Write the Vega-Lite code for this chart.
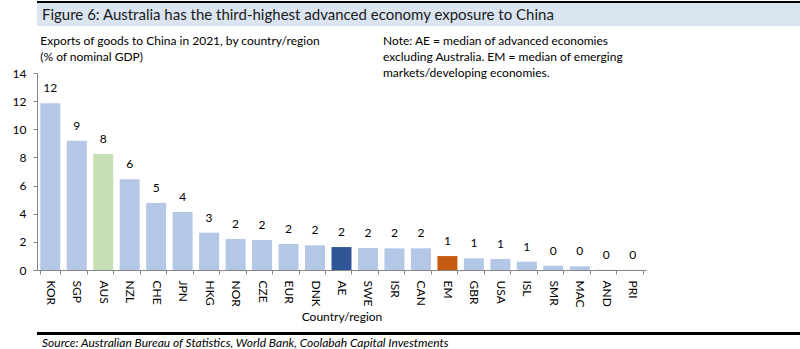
{
  "$schema": "https://vega.github.io/schema/vega-lite/v6.json",
  "background": "white",
  "padding": {"top": 1, "left": 0, "right": 0, "bottom": 0},
  "autosize": {"type": "pad"},
  "columns": 1,
  "align": "none",
  "spacing": {"row": 9, "column": 0},
  "config": {
    "font": "Lato",
    "view": {"stroke": null},
    "title": {"color": "#000000", "fontWeight": "normal"},
    "axis": {"labelColor": "#000000", "titleColor": "#000000", "labelFont": "Lato", "titleFont": "Lato"},
    "axisY": {"labelOverlap": false, "labelFontSize": 12}
  },
  "concat": [
    {
      "columns": 1,
      "spacing": 0,
      "align": "none",
      "concat": [
        {
          "width": 800,
          "height": 2,
          "data": {"values": [{}]},
          "mark": {"type": "rect", "color": "#000000"},
          "encoding": {}
        },
        {
          "width": 800,
          "height": 23,
          "data": {"values": [{}]},
          "mark": {"type": "rect", "color": "#DBE5F1"},
          "encoding": {},
          "title": {
            "text": "Figure 6: Australia has the third-highest advanced economy exposure to China",
            "orient": "top",
            "anchor": "start",
            "frame": "group",
            "baseline": "middle",
            "offset": -27,
            "dx": 5,
            "fontSize": 15,
            "fontWeight": "normal",
            "color": "#1a1a1a"
          }
        }
      ]
    },
    {
      "width": 609,
      "height": 197,
      "resolve": {"axis": {"x": "independent", "y": "independent"}},
      "layer": [
        {
          "data": {
            "values": [
              {"country": "KOR", "value": 11.85, "kind": "Country"},
              {"country": "SGP", "value": 9.19, "kind": "Country"},
              {"country": "AUS", "value": 8.24, "kind": "Australia"},
              {"country": "NZL", "value": 6.45, "kind": "Country"},
              {"country": "CHE", "value": 4.76, "kind": "Country"},
              {"country": "JPN", "value": 4.12, "kind": "Country"},
              {"country": "HKG", "value": 2.65, "kind": "Country"},
              {"country": "NOR", "value": 2.2, "kind": "Country"},
              {"country": "CZE", "value": 2.13, "kind": "Country"},
              {"country": "EUR", "value": 1.85, "kind": "Country"},
              {"country": "DNK", "value": 1.75, "kind": "Country"},
              {"country": "AE", "value": 1.63, "kind": "AE"},
              {"country": "SWE", "value": 1.56, "kind": "Country"},
              {"country": "ISR", "value": 1.54, "kind": "Country"},
              {"country": "CAN", "value": 1.54, "kind": "Country"},
              {"country": "EM", "value": 0.99, "kind": "EM"},
              {"country": "GBR", "value": 0.83, "kind": "Country"},
              {"country": "USA", "value": 0.78, "kind": "Country"},
              {"country": "ISL", "value": 0.59, "kind": "Country"},
              {"country": "SMR", "value": 0.31, "kind": "Country"},
              {"country": "MAC", "value": 0.26, "kind": "Country"},
              {"country": "AND", "value": 0.02, "kind": "Country"},
              {"country": "PRI", "value": 0.01, "kind": "Country"}
            ]
          },
          "encoding": {
            "x": {
              "field": "country",
              "type": "nominal",
              "sort": null,
              "scale": {
                "domain": ["KOR", "SGP", "AUS", "NZL", "CHE", "JPN", "HKG", "NOR", "CZE", "EUR", "DNK", "AE", "SWE", "ISR", "CAN", "EM", "GBR", "USA", "ISL", "SMR", "MAC", "AND", "PRI"],
                "paddingInner": 0.245,
                "paddingOuter": 0.1225
              },
              "axis": {
                "title": "Country/region",
                "titleFontSize": 12,
                "titleFontWeight": "normal",
                "titlePadding": 4,
                "labelAngle": 90,
                "labelAlign": "left",
                "labelBaseline": "middle",
                "labelFontSize": 12,
                "labelPadding": 6,
                "tickBand": "extent",
                "tickSize": 4,
                "tickColor": "#868686",
                "domainColor": "#868686"
              }
            },
            "y": {
              "field": "value",
              "type": "quantitative",
              "scale": {"domain": [0, 14], "nice": false},
              "axis": {
                "title": null,
                "values": [0, 2, 4, 6, 8, 10, 12, 14],
                "labelOverlap": false,
                "grid": false,
                "tickSize": 4,
                "tickColor": "#868686",
                "domainColor": "#868686",
                "labelFontSize": 12,
                "labelPadding": 7,
                "minExtent": 37
              }
            }
          },
          "layer": [
            {
              "mark": {"type": "bar"},
              "encoding": {
                "color": {
                  "field": "kind",
                  "type": "nominal",
                  "scale": {"domain": ["Country", "Australia", "AE", "EM"], "range": ["#B4C7E7", "#C5E0B4", "#2F5597", "#C55A11"]},
                  "legend": null
                }
              }
            },
            {
              "mark": {"type": "text", "baseline": "middle", "dy": -15, "fontSize": 12, "color": "#000000"},
              "encoding": {
                "text": {"field": "value", "type": "quantitative", "format": ".0f"}
              }
            }
          ]
        },
        {
          "data": {"values": [{"note": ["Exports of goods to China in 2021, by country/region", "(% of  nominal GDP)"]}]},
          "mark": {"type": "text", "align": "left", "baseline": "middle", "lineHeight": 16, "fontSize": 12, "color": "#000000", "dy": -32},
          "encoding": {
            "x": {"datum": "KOR", "type": "nominal", "bandPosition": 0, "axis": null},
            "y": {"datum": 14, "type": "quantitative", "axis": null},
            "text": {"field": "note"}
          }
        },
        {
          "data": {"values": [{"note": ["Note: AE = median of advanced economies", "excluding Australia. EM = median of emerging", "markets/developing economies."]}]},
          "mark": {"type": "text", "align": "left", "baseline": "middle", "lineHeight": 16, "fontSize": 12, "color": "#000000", "dy": -32, "dx": -1.5},
          "encoding": {
            "x": {"datum": "ISR", "type": "nominal", "bandPosition": 0, "axis": null},
            "y": {"datum": 14, "type": "quantitative", "axis": null},
            "text": {"field": "note"}
          }
        }
      ]
    },
    {
      "width": 800,
      "height": 3,
      "data": {"values": [{}]},
      "mark": {"type": "rect", "color": "#000000"},
      "encoding": {},
      "title": {
        "text": "Source: Australian Bureau of Statistics, World Bank, Coolabah Capital Investments",
        "orient": "bottom",
        "anchor": "start",
        "frame": "group",
        "offset": 3,
        "dx": 5,
        "fontSize": 12,
        "fontStyle": "italic",
        "fontWeight": "normal"
      }
    }
  ]
}
